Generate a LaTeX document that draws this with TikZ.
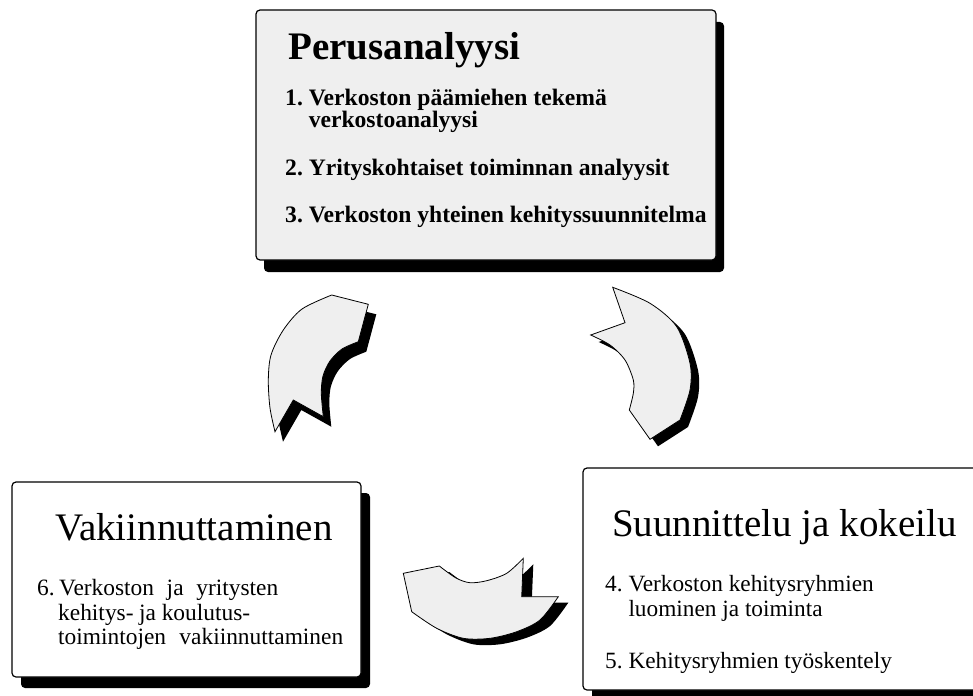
\documentclass[tikz,border=0pt]{standalone}
\usepackage{fontspec}
\setmainfont{Liberation Serif}
\definecolor{boxgray}{HTML}{EFEFEF}
\def\arrowLpath{(368.3,304.3) -- (331.7,295)
  -- plot[smooth] coordinates {(331.7,295) (302,309) (283.3,330) (271,355) (268.3,380) (270,408) (275,431.7)}
  -- (293.3,400) -- (323.3,416.7)
  -- plot[smooth] coordinates {(323.3,416.7) (321.3,393.3) (323,376) (330,361) (342,349) (358.3,341.7)}
  -- cycle}
\def\arrowRpath{(612.7,287.3) -- (625,322.7) -- (590.7,335)
  -- plot[smooth] coordinates {(590.7,335) (610,345) (625,360) (633.3,380) (633.3,393.3) (629.3,410)}
  -- (650,439.3) -- (680,420)
  -- plot[smooth] coordinates {(680,420) (690,390) (690,363.3) (676.7,326.7) (650,303.3) (612.7,287.3)}
  -- cycle}
\def\arrowBpath{(439.3,566) -- (403.3,573.3) -- (411.7,611.7)
  -- plot[smooth] coordinates {(411.7,611.7) (436.7,628.3) (463.3,638.3) (490,638.3) (516.7,631.7) (540,620) (558.3,596.7)}
  -- (521.7,596.7) -- (523.3,558.3)
  -- plot[smooth] coordinates {(523.3,558.3) (506.7,573.3) (486.7,580.7) (470,582.7) (456,578) (439.3,566)}
  -- cycle}
\begin{document}
\frenchspacing
\begin{tikzpicture}[x=1pt,y=-1pt,
  txt/.style={anchor=base west, inner sep=0pt},
  titlebf/.style={txt, font=\fontsize{39}{47}\selectfont\bfseries},
  titlerm/.style={txt, font=\fontsize{39}{47}\selectfont},
  itembf/.style={txt, font=\fontsize{23.6}{28}\selectfont\bfseries},
  itemrm/.style={txt, font=\fontsize{23.3}{28}\selectfont},
  itemsm/.style={txt, font=\fontsize{23.4}{27}\selectfont},
  boxshape/.style={rounded corners=4pt, line width=1.2pt, draw=black},
  shadowshape/.style={rounded corners=4pt, fill=black},
  arrowshape/.style={fill=boxgray, draw=black, line width=0.8pt, line join=miter},
]
\useasboundingbox (0,0) rectangle (973,695);

% box shadows and boxes
\fill[shadowshape] (264,22) rectangle (724,272);
\path[boxshape, fill=boxgray] (256,10) rectangle (716,260);
\fill[shadowshape] (21,493) rectangle (370,688);
\path[boxshape, fill=white] (12,482) rectangle (361,677);
\fill[shadowshape] (592,479) rectangle (990,701);
\path[boxshape, fill=white] (583,468) rectangle (981,690);

% curved arrows with shadows
\fill[black, shift={(8,10)}] \arrowLpath;
\path[arrowshape] \arrowLpath;
\fill[black, shift={(8,7)}] \arrowRpath;
\path[arrowshape] \arrowRpath;
\fill[black, shift={(10,6)}] \arrowBpath;
\path[arrowshape] \arrowBpath;

% top box text
\node[titlebf] (t0) at (288,59.3) {Perusanalyysi};
\node[itembf] (t1) at (285,106) {1. Verkoston päämiehen tekemä};
\node[itembf] (t1b) at (308.6,127.7) {verkostoanalyysi};
\node[itembf] (t2) at (285,175.7) {2. Yrityskohtaiset toiminnan analyysit};
\node[itembf] (t3) at (285,222.3) {3. Verkoston yhteinen kehityssuunnitelma};

% bottom right text
\node[titlerm] (s0) at (612,536.7) {Suunnittelu ja kokeilu};
\node[itemrm] (s4) at (605,591.7) {4. Verkoston kehitysryhmien};
\node[itemrm] (s4b) at (628.3,616) {luominen ja toiminta};
\node[itemrm] (s5) at (605,668) {5. Kehitysryhmien työskentely};

% bottom left text
\node[titlerm] (v0) at (55,540) {Vakiinnuttaminen};
\node[itemsm] (v6) at (37,595) {6.};
\node[itemsm] (v6a) at (59,595) {\makebox[219pt][s]{Verkoston ja yritysten}};
\node[itemsm] (v6b) at (58,620) {\makebox[192pt][s]{kehitys- ja koulutus-}};
\node[itemsm] (v6c) at (58,644) {\makebox[285pt][s]{toimintojen vakiinnuttaminen}};
\end{tikzpicture}
\end{document}
